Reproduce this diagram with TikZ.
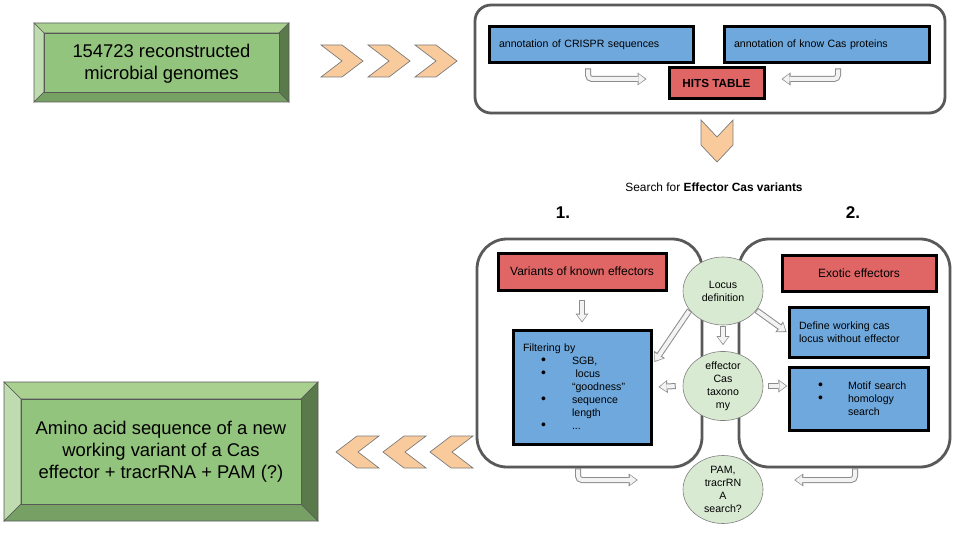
\documentclass[tikz,border=0pt]{standalone}
\usepackage{fontspec}
\setmainfont{Liberation Sans}
\usetikzlibrary{shapes.geometric,arrows.meta,shadows}

\definecolor{bevelface}{HTML}{93C47D}
\definecolor{beveltop}{HTML}{A9D08E}
\definecolor{bevelleft}{HTML}{BEDCB0}
\definecolor{bevelbottom}{HTML}{76A064}
\definecolor{bevelright}{HTML}{5A7A4C}
\definecolor{chevronfill}{HTML}{F9CB9C}
\definecolor{boxblue}{HTML}{6FA8DC}
\definecolor{boxred}{HTML}{E06666}
\definecolor{bubblegreen}{HTML}{D9EAD3}
\definecolor{framegray}{HTML}{595959}
\definecolor{arrowgray}{HTML}{8C8C8C}
\definecolor{arrowfill}{HTML}{F3F3F3}

\newcommand{\bigbul}{{\fontsize{14}{13}\selectfont\textbullet}}
\newcommand{\filtbul}{\hspace*{18pt}\makebox[31pt][l]{\bigbul}}
\newcommand{\filtgap}{\hspace*{49pt}}
\newcommand{\motifbul}{\hspace*{19pt}\makebox[30pt][l]{\bigbul}}
\newcommand{\motifgap}{\hspace*{49pt}}

\tikzset{
    bevel/.style={draw=framegray, line width=0.6pt},
    chevron/.style={draw=framegray!80, fill=chevronfill, line width=0.7pt},
    bigtext/.style={align=center, font=\fontsize{18.4}{22}\selectfont},
    smalltext/.style={font=\fontsize{10.6}{13}\selectfont},
    frame/.style={draw=framegray, line width=2.8pt, fill=white,
        drop shadow={shadow xshift=1pt, shadow yshift=-1.5pt, opacity=0.25}},
    bluebox/.style={smalltext, draw=black, line width=3pt, fill=boxblue,
        inner xsep=10pt, inner ysep=0pt, align=left},
    redbox/.style={draw=black, line width=3pt, fill=boxred, align=center},
    bubble/.style={smalltext, ellipse, draw=gray, fill=bubblegreen, line width=0.6pt,
        minimum width=80pt, minimum height=68pt, inner sep=0pt, align=center},
    hollow/.style={rounded corners=4pt,
        preaction={draw=arrowgray, line width=6pt, shorten >=0pt, shorten <=0pt,
            -{Triangle[length=9pt,width=13pt,line width=0pt]}},
        draw=arrowfill, line width=4pt, shorten >=1.4pt, shorten <=1pt,
        -{Triangle[length=6.5pt,width=10pt,line width=0pt]}}
}

\begin{document}
\begin{tikzpicture}[x=1pt,y=-1pt]
    \useasboundingbox (0,0) rectangle (960,540);
    %Bevel boxes
    \foreach \xa/\ya/\xb/\yb/\bw in {34/23/289/102/10, 4/382/318/521/17}{
        \filldraw[bevel, fill=beveltop] (\xa,\ya) -- (\xb,\ya) -- (\xb-\bw,\ya+\bw) -- (\xa+\bw,\ya+\bw) -- cycle;
        \filldraw[bevel, fill=bevelleft] (\xa,\ya) -- (\xa+\bw,\ya+\bw) -- (\xa+\bw,\yb-\bw) -- (\xa,\yb) -- cycle;
        \filldraw[bevel, fill=bevelbottom] (\xa,\yb) -- (\xa+\bw,\yb-\bw) -- (\xb-\bw,\yb-\bw) -- (\xb,\yb) -- cycle;
        \filldraw[bevel, fill=bevelright] (\xb,\ya) -- (\xb,\yb) -- (\xb-\bw,\yb-\bw) -- (\xb-\bw,\ya+\bw) -- cycle;
        \filldraw[bevel, fill=bevelface] (\xa+\bw,\ya+\bw) rectangle (\xb-\bw,\yb-\bw);
    }
    \node[bigtext] (genomes) at (161.5,64) {154723 reconstructed\\microbial genomes};
    \node[bigtext] (aminoacid) at (161,452) {Amino acid sequence of a new\\working variant of a Cas\\effector + tracrRNA + PAM (?)};
    %Chevrons
    \foreach \x in {321,368,415}
        \draw[chevron] (\x,45) -- (\x+21,45) -- (\x+42,61) -- (\x+21,77) -- (\x,77) -- (\x+21,61) -- cycle;
    \foreach \x in {336,383,430}
        \draw[chevron] (\x,452) -- (\x+21,436) -- (\x+43,436) -- (\x+22,452) -- (\x+43,468) -- (\x+21,468) -- cycle;
    \draw[chevron] (701,120) -- (717,137) -- (733,120) -- (733,145) -- (717,162) -- (701,145) -- cycle;
    %Frames
    \node[frame, rounded corners=16pt, minimum width=470pt, minimum height=108pt] (annotframe) at (710,59) {};
    \node[frame, rounded corners=30pt, minimum width=225pt, minimum height=228pt] (knownframe) at (589.5,353) {};
    \node[frame, rounded corners=30pt, minimum width=211pt, minimum height=228pt] (exoticframe) at (844.5,353) {};
    %Annotation
    \node[bluebox, text width=184pt, minimum height=36pt] (crispr) at (591,45) {annotation of CRISPR sequences};
    \node[bluebox, text width=185pt, minimum height=36pt] (knowncas) at (826.5,45) {annotation of know Cas proteins};
    \node[redbox, minimum width=95pt, minimum height=31pt, font=\fontsize{11.7}{14}\selectfont\bfseries] (hits) at (716.5,83.5) {HITS TABLE};
    \node[font=\fontsize{11.9}{14}\selectfont] (searchlabel) at (714,187) {Search for \textbf{Effector Cas variants}};
    \node[font=\fontsize{17}{20}\selectfont\bfseries] (stepone) at (563,213) {1.};
    \node[font=\fontsize{17}{20}\selectfont\bfseries] (steptwo) at (853,213) {2.};
    %Known effectors
    \node[redbox, minimum width=168pt, minimum height=37pt, font=\fontsize{12}{14}\selectfont] (variants) at (582,271.5) {Variants of known effectors};
    \node[bluebox, text width=118pt, minimum height=114pt] (filtering) at (582,387)
        {Filtering by\\ \filtbul SGB,\\ \filtbul\ locus\\ \filtgap “goodness”\\ \filtbul sequence\\ \filtgap length\\ \filtbul ...};
    %Exotic effectors
    \node[redbox, minimum width=154pt, minimum height=36pt, font=\fontsize{12}{14}\selectfont] (exotic) at (859,273) {Exotic effectors};
    \node[bluebox, text width=119pt, minimum height=50pt] (defcas) at (858.5,332) {Define working cas\\locus without effector};
    \node[bluebox, text width=119pt, minimum height=63pt] (motif) at (858.5,398.5)
        {\motifbul Motif search\\ \motifbul homology\\ \motifgap search};
    %Bubbles
    \node[bubble] (locus) at (723,291) {Locus\\definition};
    \node[bubble] (taxonomy) at (723,386) {effector\\Cas\\taxono\\my};
    \node[bubble] (pam) at (723,489.5) {PAM,\\tracrRN\\A\\search?};
    %Arrows
    \draw[hollow] ([xshift=-3pt,yshift=-4pt]crispr.south) |- ([xshift=-21pt,yshift=4.5pt]hits.west);
    \draw[hollow] ([xshift=11.5pt,yshift=-4pt]knowncas.south) |- ([xshift=16pt,yshift=4.5pt]hits.east);
    \draw[hollow] ([yshift=-8pt]variants.south) -- ([yshift=6pt]filtering.north);
    \draw[hollow] ([yshift=-1pt]locus.south) -- ([yshift=6pt]taxonomy.north);
    \draw[hollow] (locus.-150) -- ([xshift=2pt,yshift=25pt]filtering.east);
    \draw[hollow] (locus.-30) -- ([xshift=-1pt]defcas.west);
    \draw[hollow] ([xshift=-7pt]taxonomy.west) -- ([xshift=6pt]filtering.east);
    \draw[hollow] ([xshift=5pt]taxonomy.east) -- ([xshift=24pt]taxonomy.east);
    \draw[hollow] ([xshift=-11.5pt]knownframe.south) |- ([xshift=-45pt,yshift=9.5pt]pam.west);
    \draw[hollow] ([xshift=10.5pt]exoticframe.south) |- ([xshift=31pt,yshift=9.5pt]pam.east);
\end{tikzpicture}
\end{document}
